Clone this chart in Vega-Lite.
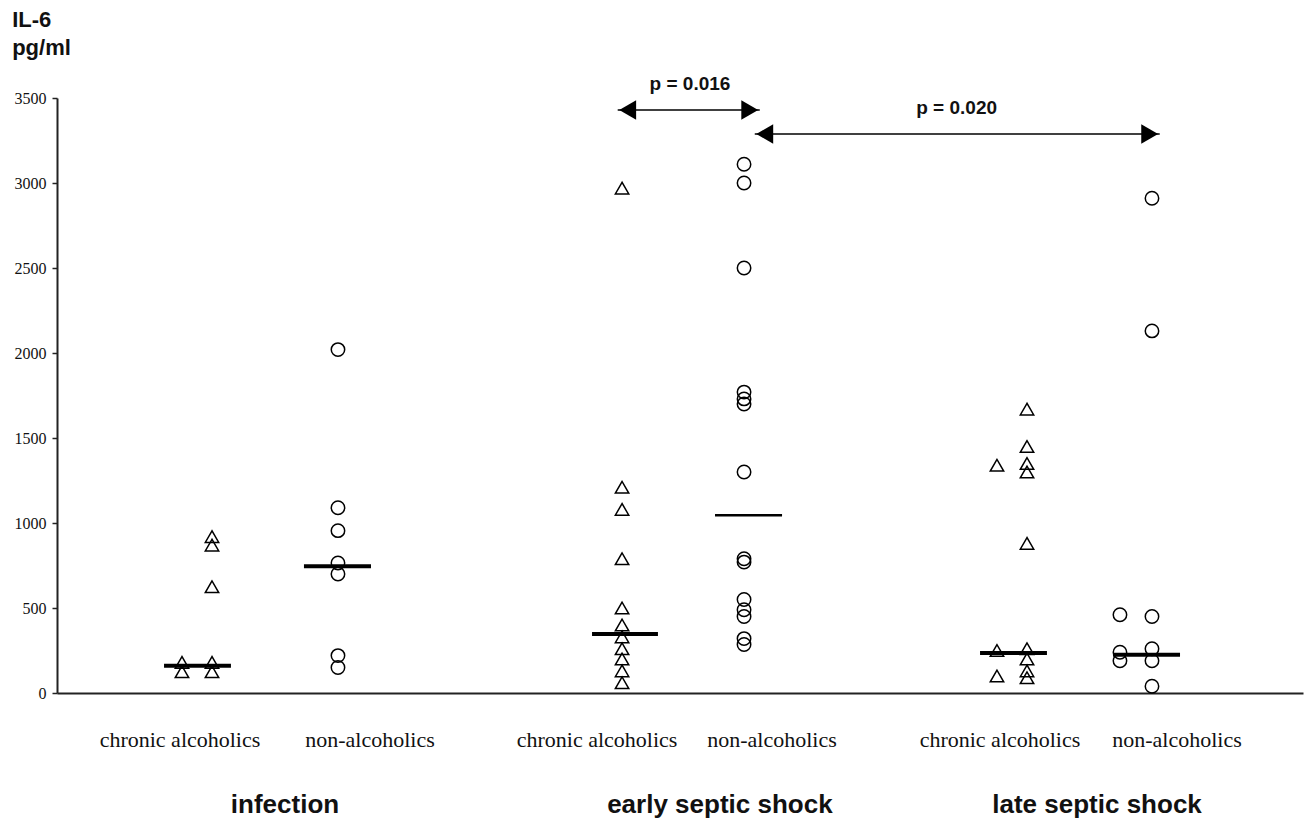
{
  "$schema": "https://vega.github.io/schema/vega-lite/v6.json",
  "width": 1246,
  "height": 595,
  "autosize": "none",
  "padding": {"left": 57, "top": 98, "right": 4, "bottom": 132},
  "background": "white",
  "config": {"view": {"stroke": null}},
  "datasets": {
    "points": [
      {"group": "infection", "cat": "chronic alcoholics", "x": 10.03, "v": 180},
      {"group": "infection", "cat": "chronic alcoholics", "x": 10.03, "v": 125},
      {"group": "infection", "cat": "chronic alcoholics", "x": 12.44, "v": 920},
      {"group": "infection", "cat": "chronic alcoholics", "x": 12.44, "v": 870},
      {"group": "infection", "cat": "chronic alcoholics", "x": 12.44, "v": 625},
      {"group": "infection", "cat": "chronic alcoholics", "x": 12.44, "v": 180},
      {"group": "infection", "cat": "chronic alcoholics", "x": 12.44, "v": 125},
      {"group": "infection", "cat": "non-alcoholics", "x": 22.55, "v": 2020},
      {"group": "infection", "cat": "non-alcoholics", "x": 22.55, "v": 1090},
      {"group": "infection", "cat": "non-alcoholics", "x": 22.55, "v": 955},
      {"group": "infection", "cat": "non-alcoholics", "x": 22.55, "v": 765},
      {"group": "infection", "cat": "non-alcoholics", "x": 22.55, "v": 700},
      {"group": "infection", "cat": "non-alcoholics", "x": 22.55, "v": 220},
      {"group": "infection", "cat": "non-alcoholics", "x": 22.55, "v": 150},
      {"group": "early septic shock", "cat": "chronic alcoholics", "x": 45.35, "v": 2970},
      {"group": "early septic shock", "cat": "chronic alcoholics", "x": 45.35, "v": 1210},
      {"group": "early septic shock", "cat": "chronic alcoholics", "x": 45.35, "v": 1080},
      {"group": "early septic shock", "cat": "chronic alcoholics", "x": 45.35, "v": 790},
      {"group": "early septic shock", "cat": "chronic alcoholics", "x": 45.35, "v": 500},
      {"group": "early septic shock", "cat": "chronic alcoholics", "x": 45.35, "v": 400},
      {"group": "early septic shock", "cat": "chronic alcoholics", "x": 45.35, "v": 330},
      {"group": "early septic shock", "cat": "chronic alcoholics", "x": 45.35, "v": 260},
      {"group": "early septic shock", "cat": "chronic alcoholics", "x": 45.35, "v": 200},
      {"group": "early septic shock", "cat": "chronic alcoholics", "x": 45.35, "v": 130},
      {"group": "early septic shock", "cat": "chronic alcoholics", "x": 45.35, "v": 60},
      {"group": "early septic shock", "cat": "non-alcoholics", "x": 55.14, "v": 3110},
      {"group": "early septic shock", "cat": "non-alcoholics", "x": 55.14, "v": 3000},
      {"group": "early septic shock", "cat": "non-alcoholics", "x": 55.14, "v": 2500},
      {"group": "early septic shock", "cat": "non-alcoholics", "x": 55.14, "v": 1770},
      {"group": "early septic shock", "cat": "non-alcoholics", "x": 55.14, "v": 1730},
      {"group": "early septic shock", "cat": "non-alcoholics", "x": 55.14, "v": 1700},
      {"group": "early septic shock", "cat": "non-alcoholics", "x": 55.14, "v": 1300},
      {"group": "early septic shock", "cat": "non-alcoholics", "x": 55.14, "v": 790},
      {"group": "early septic shock", "cat": "non-alcoholics", "x": 55.14, "v": 770},
      {"group": "early septic shock", "cat": "non-alcoholics", "x": 55.14, "v": 550},
      {"group": "early septic shock", "cat": "non-alcoholics", "x": 55.14, "v": 490},
      {"group": "early septic shock", "cat": "non-alcoholics", "x": 55.14, "v": 450},
      {"group": "early septic shock", "cat": "non-alcoholics", "x": 55.14, "v": 320},
      {"group": "early septic shock", "cat": "non-alcoholics", "x": 55.14, "v": 285},
      {"group": "late septic shock", "cat": "chronic alcoholics", "x": 75.44, "v": 1340},
      {"group": "late septic shock", "cat": "chronic alcoholics", "x": 75.44, "v": 250},
      {"group": "late septic shock", "cat": "chronic alcoholics", "x": 75.44, "v": 100},
      {"group": "late septic shock", "cat": "chronic alcoholics", "x": 77.85, "v": 1670},
      {"group": "late septic shock", "cat": "chronic alcoholics", "x": 77.85, "v": 1450},
      {"group": "late septic shock", "cat": "chronic alcoholics", "x": 77.85, "v": 1350},
      {"group": "late septic shock", "cat": "chronic alcoholics", "x": 77.85, "v": 1300},
      {"group": "late septic shock", "cat": "chronic alcoholics", "x": 77.85, "v": 880},
      {"group": "late septic shock", "cat": "chronic alcoholics", "x": 77.85, "v": 260},
      {"group": "late septic shock", "cat": "chronic alcoholics", "x": 77.85, "v": 200},
      {"group": "late septic shock", "cat": "chronic alcoholics", "x": 77.85, "v": 130},
      {"group": "late septic shock", "cat": "chronic alcoholics", "x": 77.85, "v": 90},
      {"group": "late septic shock", "cat": "non-alcoholics", "x": 85.31, "v": 460},
      {"group": "late septic shock", "cat": "non-alcoholics", "x": 85.31, "v": 240},
      {"group": "late septic shock", "cat": "non-alcoholics", "x": 85.31, "v": 190},
      {"group": "late septic shock", "cat": "non-alcoholics", "x": 87.88, "v": 2910},
      {"group": "late septic shock", "cat": "non-alcoholics", "x": 87.88, "v": 2130},
      {"group": "late septic shock", "cat": "non-alcoholics", "x": 87.88, "v": 450},
      {"group": "late septic shock", "cat": "non-alcoholics", "x": 87.88, "v": 260},
      {"group": "late septic shock", "cat": "non-alcoholics", "x": 87.88, "v": 190},
      {"group": "late septic shock", "cat": "non-alcoholics", "x": 87.88, "v": 40}
    ],
    "medians": [
      {"group": "infection", "cat": "chronic alcoholics", "x1": 8.59, "x2": 13.96, "m": 160},
      {"group": "infection", "cat": "non-alcoholics", "x1": 19.82, "x2": 25.2, "m": 745},
      {"group": "early septic shock", "cat": "chronic alcoholics", "x1": 42.94, "x2": 48.23, "m": 347},
      {"group": "early septic shock", "cat": "non-alcoholics", "x1": 52.81, "x2": 58.19, "m": 1045},
      {"group": "late septic shock", "cat": "chronic alcoholics", "x1": 74.08, "x2": 79.45, "m": 235},
      {"group": "late septic shock", "cat": "non-alcoholics", "x1": 84.75, "x2": 90.13, "m": 225}
    ],
    "arrows": [
      {"label": "p = 0.016", "x1": 45.0, "x2": 56.4, "y": 3429, "tx": 50.8, "ty": 3582},
      {"label": "p = 0.020", "x1": 56.0, "x2": 88.5, "y": 3288, "tx": 72.2, "ty": 3441}
    ],
    "catlabels": [
      {"label": "chronic alcoholics", "x": 9.87},
      {"label": "non-alcoholics", "x": 25.12},
      {"label": "chronic alcoholics", "x": 43.34},
      {"label": "non-alcoholics", "x": 57.38},
      {"label": "chronic alcoholics", "x": 75.68},
      {"label": "non-alcoholics", "x": 89.89}
    ],
    "grouplabels": [
      {"label": "infection", "x": 18.3},
      {"label": "early septic shock", "x": 53.2},
      {"label": "late septic shock", "x": 83.47}
    ]
  },
  "layer": [
    {
      "data": {"name": "points"},
      "mark": {"type": "point", "filled": false, "stroke": "black", "strokeWidth": 1.5, "size": 180, "opacity": 1},
      "encoding": {
        "x": {"field": "x", "type": "quantitative", "scale": {"domain": [0, 100], "nice": false, "zero": false},
          "axis": {"labels": false, "ticks": false, "title": null, "grid": false, "domainColor": "#222", "domainWidth": 2}},
        "y": {"field": "v", "type": "quantitative", "scale": {"domain": [0, 3500], "nice": false},
          "axis": {"values": [0, 500, 1000, 1500, 2000, 2500, 3000, 3500], "format": "d", "title": null, "grid": false,
            "domainColor": "#222", "domainWidth": 2, "tickColor": "#222", "tickSize": 5, "tickWidth": 1.5,
            "labelFont": "Liberation Serif", "labelFontSize": 16, "labelColor": "#111", "labelPadding": 6}},
        "shape": {"field": "cat", "type": "nominal", "scale": {"domain": ["chronic alcoholics", "non-alcoholics"], "range": ["triangle-up", "circle"]}, "legend": null}
      }
    },
    {
      "data": {"name": "medians"},
      "transform": [{"filter": "!(datum.group == 'early septic shock' && datum.cat == 'non-alcoholics')"}],
      "mark": {"type": "rule", "color": "black", "strokeWidth": 4},
      "encoding": {
        "x": {"field": "x1", "type": "quantitative"},
        "x2": {"field": "x2"},
        "y": {"field": "m", "type": "quantitative"}
      }
    },
    {
      "data": {"name": "medians"},
      "transform": [{"filter": "datum.group == 'early septic shock' && datum.cat == 'non-alcoholics'"}],
      "mark": {"type": "rule", "color": "black", "strokeWidth": 2.5},
      "encoding": {
        "x": {"field": "x1", "type": "quantitative"},
        "x2": {"field": "x2"},
        "y": {"field": "m", "type": "quantitative"}
      }
    },
    {
      "data": {"name": "arrows"},
      "mark": {"type": "rule", "color": "black", "strokeWidth": 1.5},
      "encoding": {
        "x": {"field": "x1", "type": "quantitative"},
        "x2": {"field": "x2"},
        "y": {"field": "y", "type": "quantitative"}
      }
    },
    {
      "data": {"name": "arrows"},
      "mark": {"type": "point", "shape": "triangle-left", "filled": true, "color": "black", "size": 380, "xOffset": 10, "opacity": 1},
      "encoding": {
        "x": {"field": "x1", "type": "quantitative"},
        "y": {"field": "y", "type": "quantitative"}
      }
    },
    {
      "data": {"name": "arrows"},
      "mark": {"type": "point", "shape": "triangle-right", "filled": true, "color": "black", "size": 380, "xOffset": -10, "opacity": 1},
      "encoding": {
        "x": {"field": "x2", "type": "quantitative"},
        "y": {"field": "y", "type": "quantitative"}
      }
    },
    {
      "data": {"name": "arrows"},
      "mark": {"type": "text", "font": "Liberation Sans", "fontWeight": "bold", "fontSize": 19, "color": "#111", "baseline": "middle", "align": "center"},
      "encoding": {
        "x": {"field": "tx", "type": "quantitative"},
        "y": {"field": "ty", "type": "quantitative"},
        "text": {"field": "label"}
      }
    },
    {
      "data": {"name": "catlabels"},
      "mark": {"type": "text", "font": "Liberation Serif", "fontSize": 22, "color": "#111", "baseline": "middle", "align": "center"},
      "encoding": {
        "x": {"field": "x", "type": "quantitative"},
        "y": {"datum": -276},
        "text": {"field": "label"}
      }
    },
    {
      "data": {"name": "grouplabels"},
      "mark": {"type": "text", "font": "Liberation Sans", "fontWeight": "bold", "fontSize": 26, "color": "#111", "baseline": "middle", "align": "center"},
      "encoding": {
        "x": {"field": "x", "type": "quantitative"},
        "y": {"datum": -659},
        "text": {"field": "label"}
      }
    },
    {
      "data": {"values": [{"t": "IL-6"}]},
      "mark": {"type": "text", "text": ["IL-6", "pg/ml"], "font": "Liberation Sans", "fontWeight": "bold", "fontSize": 22, "lineHeight": 28, "color": "#111", "baseline": "top", "align": "left"},
      "encoding": {
        "x": {"datum": -3.6},
        "y": {"datum": 4015}
      }
    }
  ]
}
